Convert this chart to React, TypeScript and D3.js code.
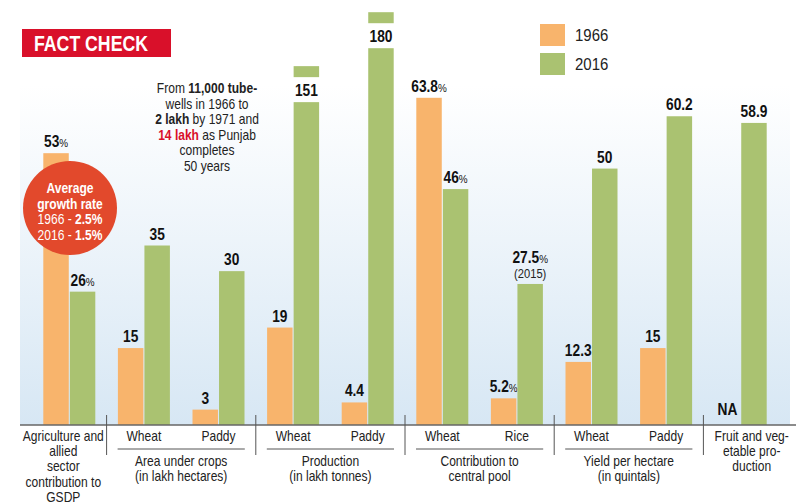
import React from 'react';
import * as d3 from 'd3';

const subLabels = ['', 'Wheat', 'Paddy', 'Wheat', 'Paddy', 'Wheat', 'Rice', 'Wheat', 'Paddy', ''];
const values1966: (number | null)[] = [53, 15, 3, 19, 4.4, 63.8, 5.2, 12.3, 15, null];
const values2016: number[] = [26, 35, 30, 151, 180, 46, 27.5, 50, 60.2, 58.9];
const labels1966 = ['53%', '15', '3', '19', '4.4', '63.8%', '5.2%', '12.3', '15', 'NA'];
const labels2016 = ['26%', '35', '30', '151', '180', '46%', '27.5%', '50', '60.2', '58.9'];
const notes2016 = ['', '', '', '', '', '', '(2015)', '', '', ''];
const seriesNames = ['1966', '2016'];

const groupStart = [0, 1, 3, 5, 7, 9];
const groupEnd = [0, 2, 4, 6, 8, 9];
const groupTitles = [
  ['Agriculture and', 'allied', 'sector', 'contribution to', 'GSDP'],
  ['Area under crops', '(in lakh hectares)'],
  ['Production', '(in lakh tonnes)'],
  ['Contribution to', 'central pool'],
  ['Yield per hectare', '(in quintals)'],
  ['Fruit and veg-', 'etable pro-', 'duction'],
];

const circleLines = [
  { a: 'Average', b: '' },
  { a: 'growth rate', b: '' },
  { a: '1966 - ', b: '2.5%' },
  { a: '2016 - ', b: '1.5%' },
];

const W = 800;
const H = 504;
const ORANGE = '#f8b46c';
const GREEN = '#aac271';
const FONT = "'Liberation Sans', Arial, sans-serif";
const SX = 0.86;

const panelLeft = 20;
const panelRight = 790;
const baseY = 425;

type TProps = {
  x: number; y: number; size?: number; weight?: string; anchor?: string; fill?: string; sx?: number;
  children?: React.ReactNode;
};
function T({ x, y, size = 14, weight = 'normal', anchor = 'middle', fill = '#222', sx = SX, children }: TProps) {
  return (
    <text transform={`translate(${x},${y}) scale(${sx},1)`} textAnchor={anchor as any} fontFamily={FONT}
      fontSize={size} fontWeight={weight} fill={fill}>
      {children}
    </text>
  );
}

function Label({ x, y, text, size = 16 }: { x: number; y: number; text: string; size?: number }) {
  const hasPct = text.endsWith('%');
  const main = hasPct ? text.slice(0, -1) : text;
  return (
    <T x={x} y={y} size={size} weight="bold" fill="#111" sx={0.86}>
      {main}
      {hasPct && <tspan fontSize={size * 0.72} fontWeight="normal">%</tspan>}
    </T>
  );
}

export default function App() {
  const idx = subLabels.map((_, i) => i);
  const x = d3.scaleBand<number>().domain(idx).range([32, 778]).padding(0);
  const inner = d3.scaleBand<string>().domain(seriesNames).range([0, 52]).paddingInner(0.04);
  const y = d3.scaleLinear().domain([0, 70]).range([baseY, baseY - 359]);
  const yBreak = d3.scaleLinear().domain([100, 200]).range([161, -25]);
  const breakAt = 100;
  const bw = inner.bandwidth();

  const center = (i: number) => (x(i) as number) + x.bandwidth() / 2;

  const bars: React.ReactNode[] = [];
  idx.forEach((i) => {
    const c = center(i);
    const x0 = c - 26 + (inner('1966') as number);
    const x1 = c - 26 + (inner('2016') as number);
    const v0 = values1966[i];
    if (v0 != null) {
      const t = y(v0);
      bars.push(<rect key={'o' + i} x={x0} y={t} width={bw} height={baseY - t} fill={ORANGE} />);
      bars.push(<Label key={'ol' + i} x={x0 + bw / 2} y={t - 6} text={labels1966[i]} />);
    } else {
      bars.push(<Label key={'ol' + i} x={x0 + bw / 2} y={baseY - 10} text={labels1966[i]} />);
    }
    const v1 = values2016[i];
    if (v1 > breakAt) {
      const t = yBreak(v1);
      bars.push(<rect key={'g' + i} x={x1} y={t} width={bw} height={11} fill={GREEN} />);
      bars.push(<rect key={'gb' + i} x={x1} y={t + 36} width={bw} height={baseY - t - 36} fill={GREEN} />);
      bars.push(<Label key={'gl' + i} x={x1 + bw / 2} y={t + 30} text={labels2016[i]} />);
    } else {
      const t = y(v1);
      bars.push(<rect key={'g' + i} x={x1} y={t} width={bw} height={baseY - t} fill={GREEN} />);
      if (notes2016[i]) {
        bars.push(<Label key={'gl' + i} x={x1 + bw / 2} y={t - 21} text={labels2016[i]} />);
        bars.push(
          <T key={'gn' + i} x={x1 + bw / 2} y={t - 6} size={13}>
            {notes2016[i]}
          </T>
        );
      } else {
        bars.push(<Label key={'gl' + i} x={x1 + bw / 2} y={t - 6} text={labels2016[i]} />);
      }
    }
  });

  const seps = groupStart.slice(1).map((s) => x(s) as number);

  return (
    <svg width={W} height={H} style={{ position: 'absolute', left: 0, top: 0 }}>
      <defs>
        <linearGradient id="bg" x1="0" y1="0" x2="0" y2="1">
          <stop offset="0" stopColor="#ffffff" />
          <stop offset="1" stopColor="#d7e7f4" />
        </linearGradient>
      </defs>
      <rect width={W} height={H} fill="#fff" />
      <rect x={panelLeft} y={85} width={panelRight - panelLeft} height={baseY - 85} fill="url(#bg)" />

      {/* title */}
      <rect x={22} y={29} width={149} height={28} fill="#d9102a" />
      <text x={34} y={51} fontFamily={FONT} fontWeight="bold" fontSize={22} fill="#fff"
        textLength={114} lengthAdjust="spacingAndGlyphs">FACT CHECK</text>

      {/* legend */}
      {seriesNames.map((s, k) => (
        <g key={s}>
          <rect x={540} y={24 + k * 29} width={25} height={22} fill={k === 0 ? ORANGE : GREEN} />
          <T x={575} y={41 + k * 29} size={17} anchor="start" sx={0.88}>{s}</T>
        </g>
      ))}

      {bars}

      {/* red circle */}
      <circle cx={70} cy={208} r={47} fill="#e2492c" />
      {circleLines.map((l, k) => (
        <T key={k} x={70} y={193 + k * 15.5} size={14} weight={k < 2 ? 'bold' : 'normal'} fill="#fff" sx={0.86}>
          {l.a}
          {l.b && <tspan fontWeight="bold">{l.b}</tspan>}
        </T>
      ))}

      {/* annotation */}
      <T x={207} y={93}>From <tspan fontWeight="bold">11,000 tube-</tspan></T>
      <T x={207} y={108.5}>wells in 1966 to</T>
      <T x={207} y={124}><tspan fontWeight="bold">2 lakh</tspan> by 1971 and</T>
      <T x={207} y={139.5}><tspan fontWeight="bold" fill="#d9102a">14 lakh</tspan> as Punjab</T>
      <T x={207} y={155}>completes</T>
      <T x={207} y={170.5}>50 years</T>

      {/* baseline */}
      <line x1={panelLeft} x2={796} y1={baseY} y2={baseY} stroke="#666" strokeWidth={1.5} />

      {/* separators */}
      {seps.map((sx, k) => (
        <line key={k} x1={sx} x2={sx} y1={415} y2={455} stroke="#555" strokeWidth={1} />
      ))}

      {/* sub labels */}
      {idx.map((i) =>
        subLabels[i] ? (
          <T key={'s' + i} x={center(i)} y={441}>
            {subLabels[i]}
          </T>
        ) : null
      )}

      {/* group titles */}
      {groupTitles.map((lines, g) => {
        const s = groupStart[g];
        const e = groupEnd[g];
        const left = x(s) as number;
        const right = (x(e) as number) + x.bandwidth();
        let cx = (left + right) / 2;
        let top = 466;
        let step = 15;
        if (s === e) {
          cx = g === 0 ? (panelLeft + right) / 2 : (left + panelRight) / 2 + 5;
          top = 441;
          step = 15.2;
        }
        return (
          <g key={'gt' + g}>
            {s !== e && <line x1={left + 11} x2={right - 11} y1={449} y2={449} stroke="#555" strokeWidth={1} />}
            {lines.map((ln, k) => (
              <T key={k} x={cx} y={top + k * step}>
                {ln}
              </T>
            ))}
          </g>
        );
      })}
    </svg>
  );
}
